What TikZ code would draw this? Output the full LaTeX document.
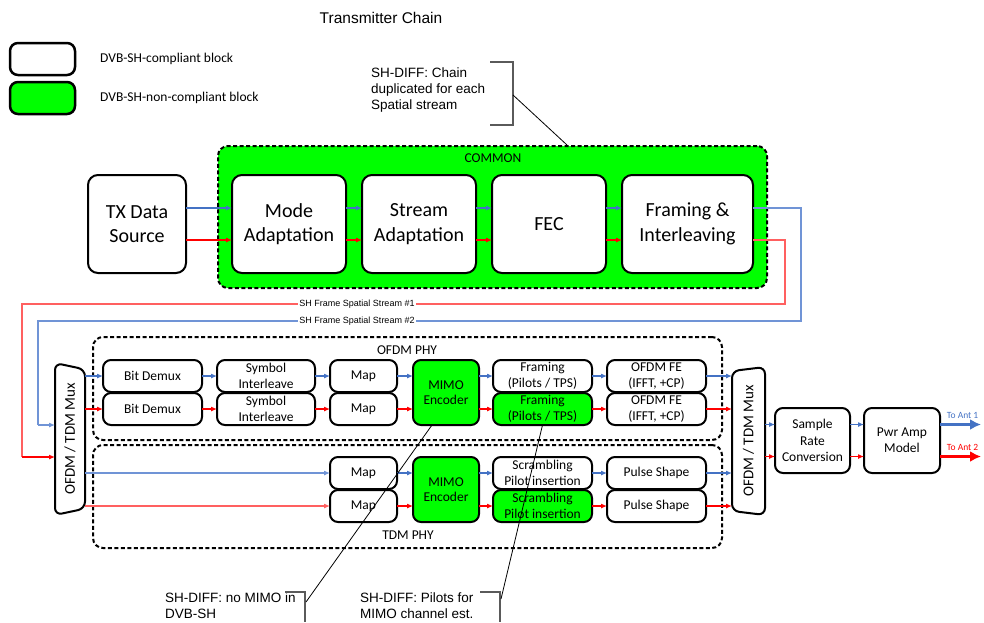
\documentclass[tikz,border=0pt]{standalone}
\usepackage{fontspec}
\setmainfont{Carlito}
\newfontfamily\arialfont{Liberation Sans}
\usepackage{xcolor}
\usepackage{tikz}
\usetikzlibrary{shapes, arrows, positioning, arrows.meta, calc}

\definecolor{blockgreen}{RGB}{0,255,0}
\definecolor{sigblue}{RGB}{68,114,196}
\definecolor{sigred}{RGB}{255,0,0}
\definecolor{routeblue}{RGB}{112,148,214}
\definecolor{routered}{RGB}{255,96,96}
\definecolor{bracketgray}{RGB}{90,90,90}

\begin{document}
\begin{tikzpicture}[
        x=1pt, y=-1pt,
        block/.style={
            rectangle,
            draw,
            fill=white,
            line width=2pt,
            rounded corners=8pt,
            outer sep=0pt,
            inner sep=1pt,
            align=center
        },
        bigblock/.style={
            block,
            rounded corners=10pt,
            minimum width=114pt,
            minimum height=98pt,
            font=\fontsize{20}{24.5}\selectfont
        },
        small/.style={
            block,
            minimum width=99pt,
            minimum height=32pt,
            font=\fontsize{13.5}{15.5}\selectfont
        },
        mux/.style={
            trapezium,
            draw,
            fill=white,
            line width=2pt,
            rounded corners=7pt,
            outer sep=0pt,
            inner sep=0pt,
            rotate=90,
            trapezium stretches body=true,
            trapezium angle=120,
            minimum width=152pt,
            minimum height=30pt,
            font=\fontsize{15}{18}\selectfont
        },
        group/.style={
            draw,
            dash pattern=on 4pt off 2.5pt,
            line width=2pt,
            rounded corners=10pt,
            inner sep=0pt
        },
        grouplbl/.style={font=\fontsize{13.5}{16}\selectfont},
        callout/.style={
            align=left,
            anchor=west,
            inner sep=0pt,
            font=\arialfont\fontsize{13.5}{16}\selectfont
        },
        bracket/.style={draw=bracketgray, line width=1.3pt},
        pointer/.style={draw=black, line width=0.8pt},
        sig/.style={line width=1.1pt, -{Latex[length=6pt,width=5pt]}},
        route/.style={line width=1.1pt},
        routelbl/.style={fill=white, inner sep=1pt, font=\arialfont\fontsize{9}{10}\selectfont},
        outsig/.style={line width=2.6pt, -{Latex[length=11pt,width=11pt]}}
    ]
        \useasboundingbox (0,0) rectangle (984,622);

        % Title and legend
        \node[font=\arialfont\fontsize{15.5}{18}\selectfont] (title) at (381,18) {Transmitter Chain};
        \node[block, line width=2.5pt, minimum width=65pt, minimum height=32pt] (legwhite) at (42.5,59) {};
        \node[block, line width=2.5pt, fill=blockgreen, minimum width=65pt, minimum height=32pt] (leggreen) at (42.5,98) {};
        \node[grouplbl, anchor=west, inner sep=0pt, right=25pt of legwhite] (legwhitetxt) {DVB-SH-compliant block};
        \node[grouplbl, anchor=west, inner sep=0pt, right=25pt of leggreen] (leggreentxt) {DVB-SH-non-compliant block};

        % Groups
        \node[group, fill=blockgreen, minimum width=549pt, minimum height=142pt] (common) at (492.5,217) {};
        \node[grouplbl] (commonlbl) at (493,158) {COMMON};
        \node[group, minimum width=629pt, minimum height=103pt] (ofdmphy) at (407.5,388.5) {};
        \node[grouplbl] (ofdmlbl) at (407,350) {OFDM PHY};
        \node[group, minimum width=629pt, minimum height=103pt] (tdmphy) at (407.5,496.5) {};
        \node[grouplbl] (tdmlbl) at (408,535) {TDM PHY};

        % Common chain
        \node[bigblock, minimum width=98pt] (txsrc) at (137,224) {TX Data\\Source};
        \node[bigblock] (modeadapt) at (289,224) {Mode\\Adaptation};
        \node[bigblock, right=16pt of modeadapt] (streamadapt) {Stream\\Adaptation};
        \node[bigblock, right=16pt of streamadapt] (fec) {FEC};
        \node[bigblock, minimum width=131pt, right=16pt of fec] (framint) {Framing \&\\Interleaving};

        % Muxes
        \node[mux] (muxL) at (70,439) {OFDM / TDM Mux};
        \node[mux, trapezium angle=70, minimum width=148pt, minimum height=33pt] (muxR) at (748.5,441) {OFDM / TDM Mux};

        % OFDM PHY
        \node[small] (demuxA) at (152.5,376) {Bit Demux};
        \node[small, below=1pt of demuxA] (demuxB) {Bit Demux};
        \node[small, minimum width=98pt, right=15pt of demuxA] (symA) {Symbol\\Interleave};
        \node[small, minimum width=98pt, below=1pt of symA] (symB) {Symbol\\Interleave};
        \node[small, minimum width=67pt, right=15pt of symA] (mapA) {Map};
        \node[small, minimum width=67pt, below=1pt of mapA] (mapB) {Map};
        \node[small, fill=blockgreen, minimum width=66pt, minimum height=65pt] (mimoA) at (446,392.5) {MIMO\\Encoder};
        \node[small] (framA) at (542.5,376) {Framing\\(Pilots / TPS)};
        \node[small, fill=blockgreen, below=1pt of framA] (framB) {Framing\\(Pilots / TPS)};
        \node[small, right=15pt of framA] (ofdmfeA) {OFDM FE\\(IFFT, +CP)};
        \node[small, below=1pt of ofdmfeA] (ofdmfeB) {OFDM FE\\(IFFT, +CP)};

        % TDM PHY
        \node[small, minimum width=67pt] (mapC) at (363.5,473) {Map};
        \node[small, minimum width=67pt, below=1pt of mapC] (mapD) {Map};
        \node[small, fill=blockgreen, minimum width=66pt, minimum height=65pt] (mimoB) at (446,489.5) {MIMO\\Encoder};
        \node[small] (scrC) at (542.5,473) {Scrambling\\Pilot insertion};
        \node[small, fill=blockgreen, below=1pt of scrC] (scrD) {Scrambling\\Pilot insertion};
        \node[small, right=15pt of scrC] (pulseC) {Pulse Shape};
        \node[small, below=1pt of pulseC] (pulseD) {Pulse Shape};

        % Output stage
        \node[block, font=\fontsize{13.5}{16.3}\selectfont, minimum width=75pt, minimum height=65pt] (srate) at (812.5,440.5) {Sample\\Rate\\Conversion};
        \node[block, font=\fontsize{13.5}{16.3}\selectfont, minimum width=76pt, minimum height=65pt, right=14pt of srate] (pwramp) {Pwr Amp\\Model};

        % Common connections
        \draw[sig, sigblue] ([yshift=16pt]txsrc.east) -- ([yshift=16pt]modeadapt.west);
        \draw[sig, sigred] ([yshift=-16pt]txsrc.east) -- ([yshift=-16pt]modeadapt.west);
        \draw[sig, sigblue] ([yshift=16pt]modeadapt.east) -- ([yshift=16pt]streamadapt.west);
        \draw[sig, sigred] ([yshift=-16pt]modeadapt.east) -- ([yshift=-16pt]streamadapt.west);
        \draw[sig, sigblue] ([yshift=16pt]streamadapt.east) -- ([yshift=16pt]fec.west);
        \draw[sig, sigred] ([yshift=-16pt]streamadapt.east) -- ([yshift=-16pt]fec.west);
        \draw[sig, sigblue] ([yshift=16pt]fec.east) -- ([yshift=16pt]framint.west);
        \draw[sig, sigred] ([yshift=-16pt]fec.east) -- ([yshift=-16pt]framint.west);

        % Spatial streams to the PHY mux
        \coordinate (b1) at (801,321);
        \coordinate (b2) at (38,425);
        \coordinate (r1) at (785,304);
        \coordinate (r2) at (22,457);
        \draw[route, routeblue] ([yshift=16pt]framint.east) -| (b1) -| (b2);
        \draw[sig, routeblue] (b2) -- (b2 -| muxL.north);
        \draw[route, routered] ([yshift=-16pt]framint.east) -| (r1) -| (r2);
        \draw[sig, sigred] (r2) -- (r2 -| muxL.north);
        \node[routelbl] (lblone) at (357,304) {SH Frame Spatial Stream \#1};
        \node[routelbl] (lbltwo) at (357,321) {SH Frame Spatial Stream \#2};

        % OFDM PHY connections
        \draw[sig, sigblue] (demuxA.west -| muxL.south) -- (demuxA.west);
        \draw[sig, sigred] (demuxB.west -| muxL.south) -- (demuxB.west);
        \draw[sig, sigblue] (demuxA) -- (symA);
        \draw[sig, sigred] (demuxB) -- (symB);
        \draw[sig, sigblue] (symA) -- (mapA);
        \draw[sig, sigred] (symB) -- (mapB);
        \draw[sig, sigblue] (mapA.east) -- (mapA.east -| mimoA.west);
        \draw[sig, sigred] (mapB.east) -- (mapB.east -| mimoA.west);
        \draw[sig, sigblue] (framA.west -| mimoA.east) -- (framA.west);
        \draw[sig, sigred] (framB.west -| mimoA.east) -- (framB.west);
        \draw[sig, sigblue] (framA) -- (ofdmfeA);
        \draw[sig, sigred] (framB) -- (ofdmfeB);
        \draw[sig, sigblue] (ofdmfeA.east) -- (ofdmfeA.east -| muxR.north);
        \draw[sig, sigred] (ofdmfeB.east) -- (ofdmfeB.east -| muxR.north);

        % TDM PHY connections
        \draw[sig, routeblue] (mapC.west -| muxL.south) -- (mapC.west);
        \draw[sig, routered] (mapD.west -| muxL.south) -- (mapD.west);
        \draw[sig, sigblue] (mapC.east) -- (mapC.east -| mimoB.west);
        \draw[sig, sigred] (mapD.east) -- (mapD.east -| mimoB.west);
        \draw[sig, sigblue] (scrC.west -| mimoB.east) -- (scrC.west);
        \draw[sig, sigred] (scrD.west -| mimoB.east) -- (scrD.west);
        \draw[sig, sigblue] (scrC) -- (pulseC);
        \draw[sig, sigred] (scrD) -- (pulseD);
        \draw[sig, sigblue] (pulseC.east) -- (pulseC.east -| muxR.north);
        \draw[sig, sigred] (pulseD.east) -- (pulseD.east -| muxR.north);

        % Output connections
        \draw[sig, sigblue] ([yshift=16pt]srate.west -| muxR.south) -- ([yshift=16pt]srate.west);
        \draw[sig, sigred] ([yshift=-16pt]srate.west -| muxR.south) -- ([yshift=-16pt]srate.west);
        \draw[sig, sigblue] ([yshift=16pt]srate.east) -- ([yshift=16pt]pwramp.west);
        \draw[sig, sigred] ([yshift=-16pt]srate.east) -- ([yshift=-16pt]pwramp.west);
        \coordinate (ant1) at (981,424.5);
        \coordinate (ant2) at (981,456.5);
        \draw[outsig, sigblue] (ant1 -| pwramp.east) -- node[pos=0.55, above=1pt, font=\fontsize{9.5}{11}\selectfont] {To Ant 1} (ant1);
        \draw[outsig, sigred] (ant2 -| pwramp.east) -- node[pos=0.55, above=1pt, font=\fontsize{9.5}{11}\selectfont] {To Ant 2} (ant2);

        % Callouts
        \node[callout] (diffchain) at (371,90) {SH-DIFF: Chain\\duplicated for each\\Spatial stream};
        \draw[bracket] (490,62) -- (513,62) -- (513,125) -- (490,125);
        \coordinate (chaintip) at (513,95);
        \draw[pointer] (chaintip) -- ([xshift=74.5pt]common.north);

        \node[callout] (diffmimo) at (165,606) {SH-DIFF: no MIMO in\\DVB-SH};
        \draw[bracket] (285,592) -- (305,592) -- (305,622);
        \coordinate (mimotip) at (306,602);
        \draw[pointer] (mimotip) -- ([xshift=-14pt]mimoA.south);

        \node[callout] (diffpilot) at (360,606) {SH-DIFF: Pilots for\\MIMO channel est.};
        \draw[bracket] (480,592) -- (500,592) -- (500,622);
        \coordinate (pilottip) at (501,599);
        \draw[pointer] (pilottip) -- (framB.south);

    \end{tikzpicture}
\end{document}
